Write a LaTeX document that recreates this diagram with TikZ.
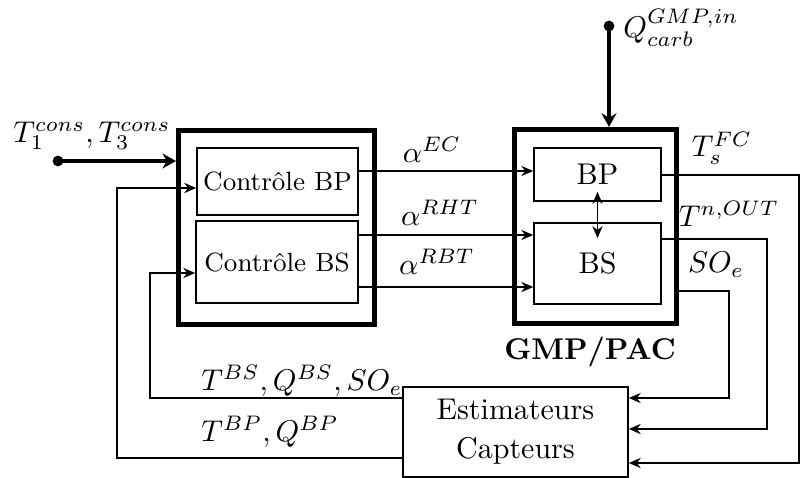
\documentclass[10pt,tikz,border=0pt]{standalone}
\usepackage{amsmath,amssymb}
\usetikzlibrary{arrows.meta}

\begin{document}
\begin{tikzpicture}[x=0.3333pt,y=-0.3333pt,
    thinbox/.style={draw,line width=0.5pt,inner sep=0pt},
    thickbox/.style={draw,line width=1.7pt,inner sep=0pt},
    dot/.style={circle,fill,inner sep=0pt,minimum size=3.6pt},
    sig/.style={line width=0.5pt,-{Stealth[length=4pt,width=3.4pt]}},
    bigsig/.style={line width=1.2pt,-{Stealth[length=4.5pt,width=5pt]}}]
        \useasboundingbox (0,0) rectangle (807,478);
        \node[thickbox,minimum width=65.3pt,minimum height=64.7pt] (ctrl) at (276.5,227.5) {};
        \node[thinbox,minimum width=53.7pt,minimum height=22.3pt,font=\fontsize{8.8}{10}\selectfont] (cbp) at (277.5,181.5) {Contrôle BP};
        \node[thinbox,minimum width=54pt,minimum height=27.3pt,font=\fontsize{8.8}{10}\selectfont] (cbs) at (277,262) {Contrôle BS};
        \node[thickbox,minimum width=54pt,minimum height=64.7pt] (gmp) at (595.5,226.5) {};
        \node[thinbox,minimum width=42.3pt,minimum height=17.7pt] (bp) at (597.5,174.5) {BP};
        \node[thinbox,minimum width=42.3pt,minimum height=27pt] (bs) at (597.5,263.5) {BS};
        \node[font=\bfseries] (gmplbl) at (590,352) {GMP/PAC};
        \node[thinbox,minimum width=75pt,minimum height=30pt,align=center] (est) at (515.5,432) {Estimateurs\\[1pt]Capteurs};
        \node[dot] (tcons) at (58,161) {};
        \node[dot] (qin) at (609,26) {};
        \node (tconslbl) at (92,136) {$T_1^{cons},T_3^{cons}$};
        \node (qinlbl) at (681,28) {$Q^{GMP,in}_{carb}$};
        \draw[bigsig] (tcons.center) -- (tcons -| ctrl.west);
        \draw[bigsig] (qin.center) -- (qin |- gmp.north);
        \draw[sig] (cbp.east |- 0,171) -- (bp.west |- 0,171);
        \draw[sig] (cbs.east |- 0,235) -- (bs.west |- 0,235);
        \draw[sig] (cbs.east |- 0,287) -- (bs.west |- 0,287);
        \node (aec) at (432,150) {$\alpha^{EC}$};
        \node (arht) at (440,213) {$\alpha^{RHT}$};
        \node (arbt) at (437,262) {$\alpha^{RBT}$};
        \draw[line width=0.5pt,{Stealth[length=4pt,width=3.4pt]}-{Stealth[length=4pt,width=3.4pt]}] ([yshift=3.3pt]bp.south) -- ([yshift=-5.3pt]bs.north);
        \draw[sig] (bp.east |- 0,175) -| (799,463) -- (est.east |- 0,463);
        \draw[sig] (bs.east |- 0,239) -| (767,429) -- (est.east |- 0,429);
        \draw[sig] (gmp.east |- 0,291) -| (729,398) -- (est.east |- 0,398);
        \node (tfc) at (722,148) {$T_s^{FC}$};
        \node (tout) at (729,214) {$T^{n,OUT}$};
        \node (soe) at (716,265) {$SO_e$};
        \draw[sig] (est.west |- 0,398) -| (150,273) -- (cbs.west |- 0,273);
        \draw[sig] (est.west |- 0,458) -| (117,188) -- (cbp.west |- 0,188);
        \node (bslbl) at (302,381) {$T^{BS},Q^{BS},SO_e$};
        \node (bplbl) at (270,432) {$T^{BP},Q^{BP}$};
      \end{tikzpicture}
\end{document}
